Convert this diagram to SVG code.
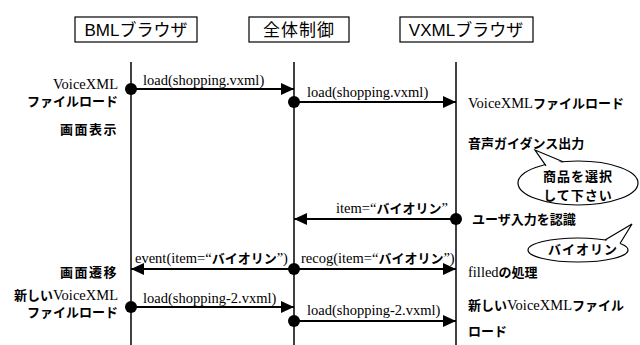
<svg xmlns="http://www.w3.org/2000/svg" width="640" height="345" viewBox="0 0 640 345">
<style>
.box{fill:#fff;stroke:#000;stroke-width:1.2}
.hdr{font-family:"Liberation Sans","Noto Sans CJK JP",sans-serif;font-size:17px;text-anchor:middle}
.life{stroke:#000;stroke-width:1.5}
.msg{stroke:#000;stroke-width:2;fill:none}
.dot{fill:#000}
.t{font-family:"Liberation Serif","Noto Sans CJK JP",serif;font-size:14.5px;fill:#000}
.j{font-family:"Noto Sans CJK JP",sans-serif;font-weight:bold;font-size:13px}
.r{text-anchor:end}
.bub{fill:#fff;stroke:#000;stroke-width:1.2}
.tailfill{fill:#fff;stroke:none}
.tail{fill:none;stroke:#000;stroke-width:1.2;stroke-linejoin:miter}
.bt{font-family:"Noto Sans CJK JP",sans-serif;font-weight:bold;font-size:13px;text-anchor:middle;letter-spacing:1px}
</style>
<defs>
<marker id="ah" markerUnits="userSpaceOnUse" markerWidth="13" markerHeight="12" refX="13" refY="6" orient="auto">
<path d="M0,0 L13,6 L0,12 z" fill="#000"/>
</marker>
</defs>
<rect width="640" height="345" fill="#fff"/>
<g id="bml">
<rect class="box" x="75" y="17" width="122" height="25"/>
<text class="hdr" x="136" y="36">BMLブラウザ</text>
<line class="life" x1="131" y1="62" x2="131" y2="345"/>
</g>
<g id="ctrl">
<rect class="box" x="249" y="17" width="100" height="25"/>
<text class="hdr" x="299" y="36" letter-spacing="1">全体制御</text>
<line class="life" x1="294" y1="62" x2="294" y2="345"/>
</g>
<g id="vxml">
<rect class="box" x="400" y="17" width="133" height="25"/>
<text class="hdr" x="466" y="36">VXMLブラウザ</text>
<line class="life" x1="456" y1="62" x2="456" y2="345"/>
</g>
<g id="connectors">
<line class="msg" x1="131" y1="89" x2="294" y2="89" marker-end="url(#ah)"/>
<circle class="dot" cx="131" cy="89" r="6"/>
<text class="t" x="143" y="85">load(shopping.vxml)</text>
<line class="msg" x1="294" y1="102" x2="456" y2="102" marker-end="url(#ah)"/>
<circle class="dot" cx="294" cy="102" r="6"/>
<text class="t" x="307" y="97">load(shopping.vxml)</text>
<line class="msg" x1="456" y1="219" x2="294" y2="219" marker-end="url(#ah)"/>
<circle class="dot" cx="456" cy="219" r="6"/>
<text class="t" x="336" y="213">item=“<tspan class="j">バイオリン</tspan>”</text>
<line class="msg" x1="294" y1="269" x2="131" y2="269" marker-end="url(#ah)"/>
<line class="msg" x1="294" y1="269" x2="456" y2="269" marker-end="url(#ah)"/>
<circle class="dot" cx="294" cy="269" r="6"/>
<text class="t" x="135" y="263">event(item=“<tspan class="j">バイオリン</tspan>”)</text>
<text class="t" x="301" y="263">recog(item=“<tspan class="j">バイオリン</tspan>”)</text>
<line class="msg" x1="131" y1="307" x2="294" y2="307" marker-end="url(#ah)"/>
<circle class="dot" cx="131" cy="307" r="6"/>
<text class="t" x="143" y="303">load(shopping-2.vxml)</text>
<line class="msg" x1="294" y1="321" x2="456" y2="321" marker-end="url(#ah)"/>
<circle class="dot" cx="294" cy="321" r="6"/>
<text class="t" x="307" y="315">load(shopping-2.vxml)</text>
</g>
<g id="left-labels">
<text class="t r" x="118" y="89">VoiceXML</text>
<text class="t r" x="118" y="106"><tspan class="j" font-size="12">ファイルロード</tspan></text>
<text class="t r" x="118" y="134"><tspan class="j" letter-spacing="1.5">画面表示</tspan></text>
<text class="t r" x="118" y="277"><tspan class="j" letter-spacing="1.5">画面遷移</tspan></text>
<text class="t r" x="118" y="300"><tspan class="j">新しい</tspan>VoiceXML</text>
<text class="t r" x="118" y="317"><tspan class="j" font-size="12">ファイルロード</tspan></text>
</g>
<g id="right-labels">
<text class="t" x="468" y="108" font-size="13">VoiceXML<tspan class="j" font-size="12">ファイルロード</tspan></text>
<text class="t" x="468" y="148"><tspan class="j">音声ガイダンス出力</tspan></text>
<text class="t" x="472" y="224"><tspan class="j">ユーザ入力を認識</tspan></text>
<text class="t" x="468" y="277" font-size="13">filled<tspan class="j">の処理</tspan></text>
<text class="t" x="468" y="310" font-size="13"><tspan class="j">新しい</tspan>VoiceXML<tspan class="j">ファイル</tspan></text>
<text class="t" x="468" y="336"><tspan class="j">ロード</tspan></text>
</g>
<g id="bubble1">
<ellipse class="bub" cx="578" cy="183" rx="60" ry="22"/>
<polygon class="tailfill" points="547,167 535,150 563,163.5"/>
<polyline class="tail" points="546,165.8 535,150 563,161.8"/>
<text class="bt" x="578" y="180.5">商品を選択</text>
<text class="bt" x="578" y="199.5">して下さい</text>
</g>
<g id="bubble2">
<ellipse class="bub" cx="578" cy="250" rx="50" ry="12"/>
<polygon class="tailfill" points="605,241.5 632,224 619,245.5"/>
<polyline class="tail" points="605,239.9 632,224 620,243.5"/>
<text class="bt" x="583" y="254">バイオリン</text>
</g>
</svg>
